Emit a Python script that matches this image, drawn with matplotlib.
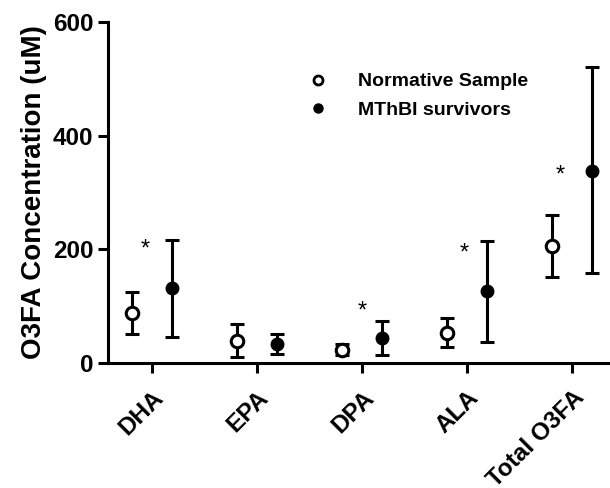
import numpy as np
import matplotlib
matplotlib.use("Agg")
import matplotlib.pyplot as plt
from matplotlib.lines import Line2D

plt.rcParams['font.family'] = ['Liberation Sans', 'DejaVu Sans']
plt.rcParams['font.weight'] = 'bold'

# data
categories = ["DHA", "EPA", "DPA", "ALA", "Total O3FA"]
norm_mean = [88, 39, 23, 53, 206]
norm_low = [51, 11, 14, 28, 152]
norm_high = [125, 69, 33, 79, 260]
mthbi_mean = [132, 33, 44, 127, 338]
mthbi_low = [46, 16, 14, 37, 158]
mthbi_high = [216, 51, 74, 215, 521]
# significance stars: category index, x shift, y value
star_cat = [0, 2, 3, 4]
star_x = [-0.07, 0.0, -0.03, -0.11]
star_y = [200, 90, 193, 329]

x = np.arange(len(categories))
off = 0.19

fig = plt.figure(figsize=(6.1, 4.88), dpi=100)
ax = fig.add_axes([0.177, 0.256, 0.823, 0.699])

norm_err = [np.array(norm_mean) - np.array(norm_low), np.array(norm_high) - np.array(norm_mean)]
mthbi_err = [np.array(mthbi_mean) - np.array(mthbi_low), np.array(mthbi_high) - np.array(mthbi_mean)]

ax.errorbar(x - off, norm_mean, yerr=norm_err, fmt='o', color='black', mfc='white',
            mec='black', mew=2.2, ms=9, elinewidth=2.2, capsize=4.8, capthick=2.2, zorder=3)
ax.errorbar(x + off, mthbi_mean, yerr=mthbi_err, fmt='o', color='black', mfc='black',
            mec='black', ms=9, elinewidth=2.2, capsize=4.8, capthick=2.2, zorder=3)

for c, dx, yy in zip(star_cat, star_x, star_y):
    ax.text(c + dx, yy, "*", ha='center', va='center', fontsize=17, fontweight='normal')

ax.set_xlim(-0.42, 4.36)
ax.set_ylim(0, 600)
ax.set_yticks([0, 200, 400, 600])
ax.set_xticks(x)
ax.set_xticklabels([])
# rotated category labels placed by hand under each tick
for i, name in zip(x, categories):
    ax.annotate(name, xy=(i, 0), xycoords=('data', 'axes fraction'),
                xytext=(0, -23), textcoords='offset pixels',
                ha='right', va='top', rotation=45, rotation_mode='anchor',
                fontsize=17.5, fontweight='bold', annotation_clip=False)
ax.tick_params(axis='y', labelsize=17.5, width=2.2, length=7)
ax.tick_params(axis='x', width=2.2, length=7)
ax.set_ylabel("O3FA Concentration (uM)", fontsize=20, fontweight='bold', labelpad=4)

ax.spines['top'].set_visible(False)
ax.spines['right'].set_visible(False)
ax.spines['left'].set_linewidth(2.2)
ax.spines['bottom'].set_linewidth(2.2)

handles = [
    Line2D([], [], marker='o', ls='none', mfc='white', mec='black', mew=2, ms=6.5),
    Line2D([], [], marker='o', ls='none', mfc='black', mec='black', ms=6.5),
]
ax.legend(handles, ["Normative Sample", "MThBI survivors"], loc='upper left',
          bbox_to_anchor=(299 / 610, 1 - 63 / 488), bbox_transform=fig.transFigure,
          frameon=False, prop={'size': 14, 'weight': 'bold'}, handlelength=1.0,
          handletextpad=1.55, labelspacing=0.55, borderpad=0)

fig.savefig("out.png", dpi=100)
